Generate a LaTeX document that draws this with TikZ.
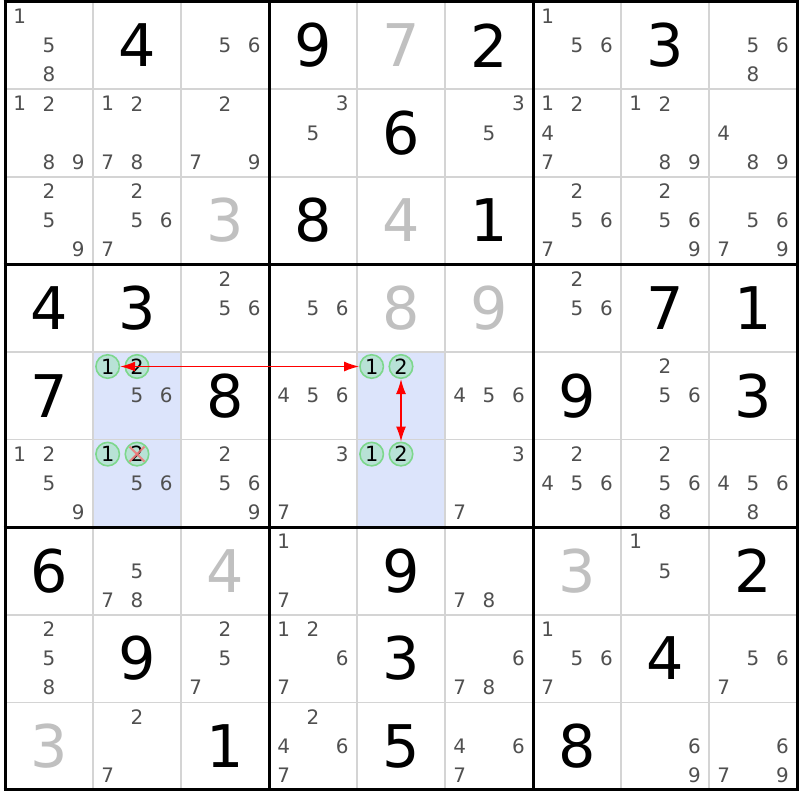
\documentclass[tikz,border=0pt]{standalone}
\usepackage{fontspec}
\setmainfont{DejaVu Sans}
\usetikzlibrary{arrows.meta}
\definecolor{candgray}{RGB}{80,80,80}
\definecolor{solvedgray}{RGB}{192,192,192}
\definecolor{thingrid}{RGB}{212,212,212}
\definecolor{hilite}{RGB}{220,228,251}
\definecolor{circstroke}{RGB}{125,215,140}
\definecolor{circfill}{RGB}{184,226,214}
\definecolor{crossred}{RGB}{240,120,120}
\tikzset{
  given/.style={font=\fontsize{59}{59}\selectfont, text=black, inner sep=0pt},
  solved/.style={given, text=solvedgray},
  cand/.style={font=\fontsize{20}{20}\selectfont, text=candgray, inner sep=0pt},
  circ/.style={circle, draw=circstroke, fill=circfill, line width=1.6bp, minimum size=23.5bp, inner sep=0pt, font=\fontsize{21}{21}\selectfont, text=black},
  thinline/.style={thingrid, line width=1.6bp},
  thickline/.style={black, line width=3bp},
  link/.style={red, line width=1.4bp, {Latex[length=15bp,width=10bp]}-{Latex[length=15bp,width=10bp]}},
  elim/.style={crossred, line width=2bp, opacity=0.85},
}
\begin{document}
\begin{tikzpicture}[x=1bp,y=-1bp]
\useasboundingbox (0,0) rectangle (800,800);
\fill[white] (0,0) rectangle (800,800);
% highlighted cells
\fill[hilite] (93,351.9) rectangle (181,527.1);
\fill[hilite] (357,351.9) rectangle (445,527.1);
% thin grid lines
\foreach \k in {1,2,4,5,7,8}{
  \draw[thinline] (5+88*\k,1.5) -- (5+88*\k,789.9);
  \draw[thinline] (5,1.5+87.6*\k) -- (797,1.5+87.6*\k);
}
% thick grid lines
\foreach \k in {0,3,6,9}{
  \draw[thickline] (5+88*\k,0) -- (5+88*\k,791.4);
  \draw[thickline] (3.5,1.5+87.6*\k) -- (798.5,1.5+87.6*\k);
}
% given digits
\foreach \r/\c/\v in {1/2/4,1/4/9,1/6/2,1/8/3,2/5/6,3/4/8,3/6/1,4/1/4,4/2/3,4/8/7,4/9/1,5/1/7,5/3/8,5/7/9,5/9/3,7/1/6,7/5/9,7/9/2,8/2/9,8/5/3,8/8/4,9/3/1,9/5/5,9/7/8}{
  \node[given] (g\r\c) at ({5+88*(\c-1)+44},{1.5+87.6*(\r-1)+43.8}) {\v};
}
% solved digits
\foreach \r/\c/\v in {1/5/7,3/3/3,3/5/4,4/5/8,4/6/9,7/3/4,7/7/3,9/1/3}{
  \node[solved] (s\r\c) at ({5+88*(\c-1)+44},{1.5+87.6*(\r-1)+43.8}) {\v};
}
% candidates
\foreach \r/\c/\cs in {1/1/{1,5,8},1/3/{5,6},1/7/{1,5,6},1/9/{5,6,8},
  2/1/{1,2,8,9},2/2/{1,2,7,8},2/3/{2,7,9},2/4/{3,5},2/6/{3,5},2/7/{1,2,4,7},2/8/{1,2,8,9},2/9/{4,8,9},
  3/1/{2,5,9},3/2/{2,5,6,7},3/7/{2,5,6,7},3/8/{2,5,6,9},3/9/{5,6,7,9},
  4/3/{2,5,6},4/4/{5,6},4/7/{2,5,6},
  5/2/{5,6},5/4/{4,5,6},5/6/{4,5,6},5/8/{2,5,6},
  6/1/{1,2,5,9},6/2/{5,6},6/3/{2,5,6,9},6/4/{3,7},6/6/{3,7},6/7/{2,4,5,6},6/8/{2,5,6,8},6/9/{4,5,6,8},
  7/2/{5,7,8},7/4/{1,7},7/6/{7,8},7/8/{1,5},
  8/1/{2,5,8},8/3/{2,5,7},8/4/{1,2,6,7},8/6/{6,7,8},8/7/{1,5,6,7},8/9/{5,6,7},
  9/2/{2,7},9/4/{2,4,6,7},9/6/{4,6,7},9/8/{6,9},9/9/{6,7,9}}{
  \foreach \d in \cs {
    \pgfmathsetmacro\cx{5+88*(\c-1)+88*(mod(\d-1,3)*2+1)/6}
    \pgfmathsetmacro\cy{1.5+87.6*(\r-1)+87.6*(floor((\d-1)/3)*2+1)/6}
    \node[cand] (c\r\c\d) at (\cx,\cy) {\d};
  }
}
% circled candidates
\foreach \r/\c/\d in {5/2/1,5/2/2,6/2/1,6/2/2,5/5/1,5/5/2,6/5/1,6/5/2}{
  \pgfmathsetmacro\cx{5+88*(\c-1)+88*(mod(\d-1,3)*2+1)/6}
  \pgfmathsetmacro\cy{1.5+87.6*(\r-1)+87.6*(floor((\d-1)/3)*2+1)/6}
  \node[circ] (k\r\c\d) at (\cx,\cy) {\d};
}
% eliminated candidate
\draw[elim] ([shift={(-7.5,-7.5)}]k622.center) -- ([shift={(7.5,7.5)}]k622.center);
\draw[elim] ([shift={(7.5,-7.5)}]k622.center) -- ([shift={(-7.5,7.5)}]k622.center);
% links
\draw[link] (k521) -- (k551);
\draw[link] (k552) -- (k652);
\end{tikzpicture}
\end{document}
